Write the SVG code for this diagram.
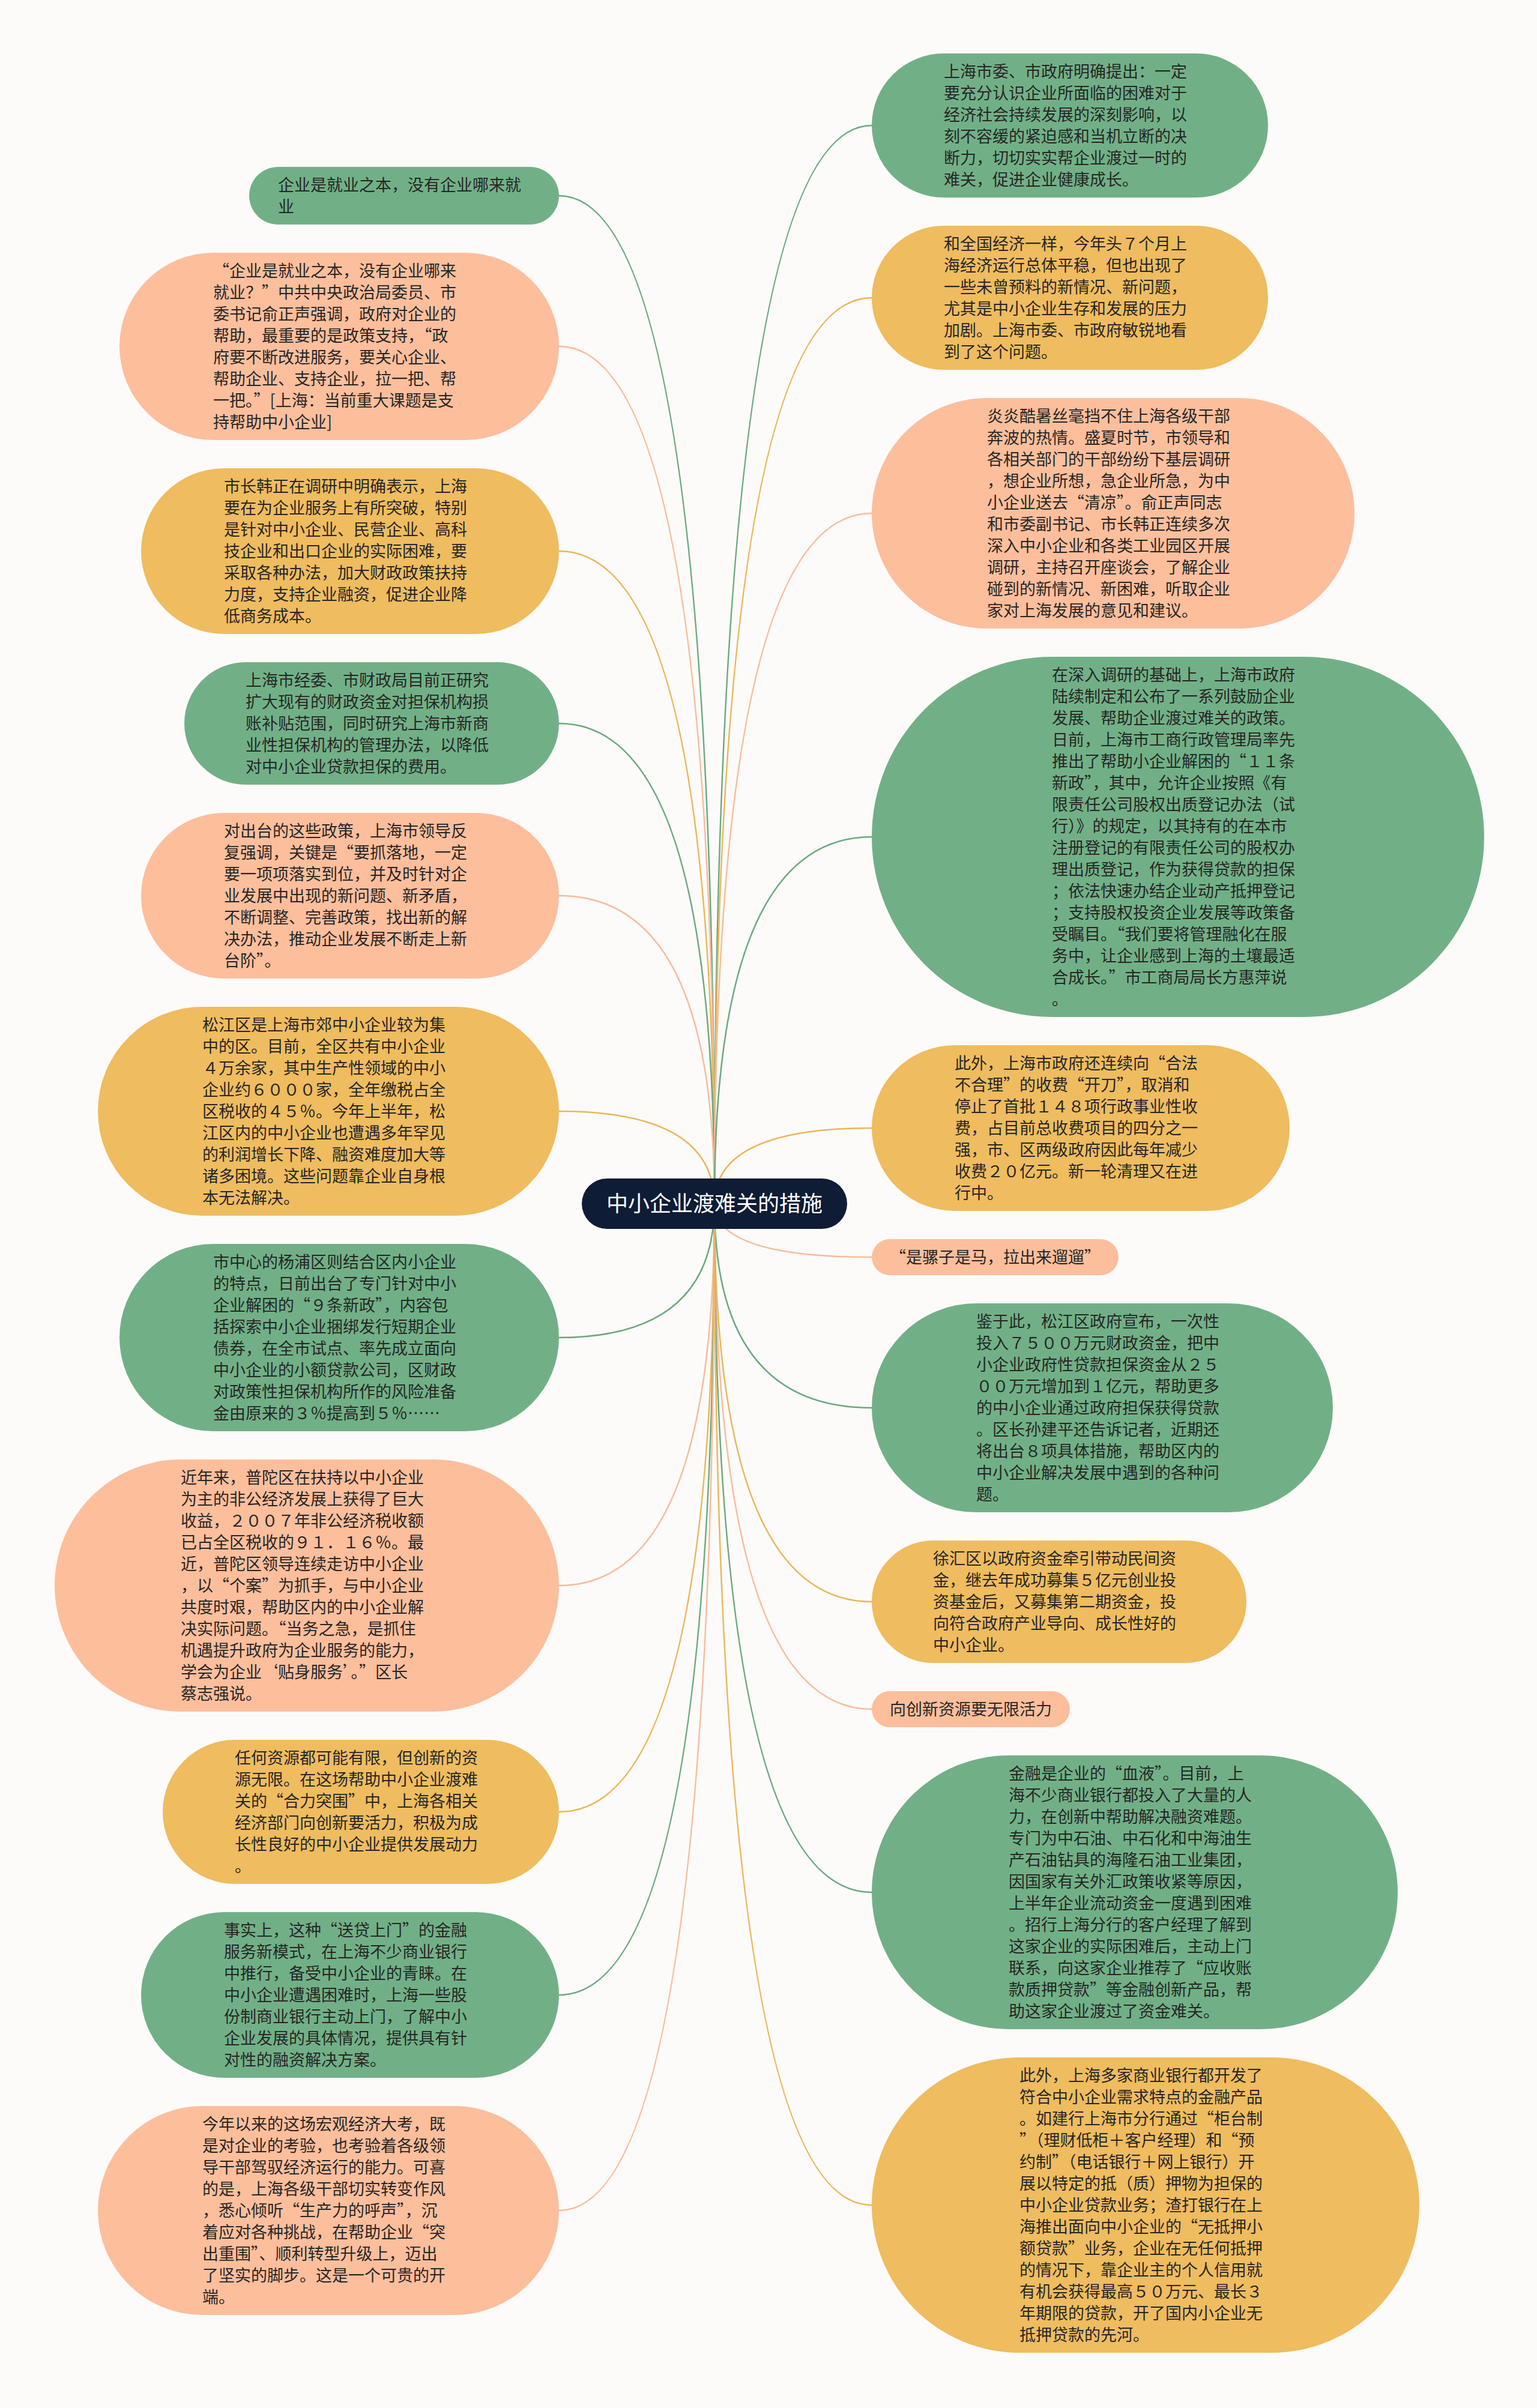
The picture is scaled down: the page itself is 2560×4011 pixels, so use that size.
<svg xmlns="http://www.w3.org/2000/svg" width="2560" height="4011" viewBox="0 0 2560 4011">
<style>
.bg{fill:#fdfbf9}
.g{fill:#71b086}.y{fill:#efbc5f}.s{fill:#fdbe9c}
.t{font-family:"Noto Sans CJK SC","Noto Sans",sans-serif;font-size:27px;fill:#262626}
.ct{font-family:"Noto Sans CJK SC","Noto Sans",sans-serif;font-size:36px;fill:#ffffff}
#connectors path{fill:none;stroke-width:2.5}
.lg{stroke:#6aa97f}.ly{stroke:#eab65a}.ls{stroke:#f8bb9b}
</style>
<rect class="bg" x="0" y="0" width="2560" height="4011"/>
<g id="connectors">
<path class="lg" d="M1190 2005 Q1190 326 931 326"/>
<path class="ls" d="M1190 2005 Q1190 577 931 577"/>
<path class="ly" d="M1190 2005 Q1190 918 931 918"/>
<path class="lg" d="M1190 2005 Q1190 1205 931 1205"/>
<path class="ls" d="M1190 2005 Q1190 1492 931 1492"/>
<path class="ly" d="M1190 2005 Q1190 1851 931 1851"/>
<path class="lg" d="M1190 2005 Q1190 2228 931 2228"/>
<path class="ls" d="M1190 2005 Q1190 2641 931 2641"/>
<path class="ly" d="M1190 2005 Q1190 3018 931 3018"/>
<path class="lg" d="M1190 2005 Q1190 3323 931 3323"/>
<path class="ls" d="M1190 2005 Q1190 3682 931 3682"/>
<path class="lg" d="M1190 2005 Q1190 209 1452 209"/>
<path class="ly" d="M1190 2005 Q1190 496 1452 496"/>
<path class="ls" d="M1190 2005 Q1190 855 1452 855"/>
<path class="lg" d="M1190 2005 Q1190 1394 1452 1394"/>
<path class="ly" d="M1190 2005 Q1190 1879 1452 1879"/>
<path class="ls" d="M1190 2005 Q1190 2094 1452 2094"/>
<path class="lg" d="M1190 2005 Q1190 2345 1452 2345"/>
<path class="ly" d="M1190 2005 Q1190 2668 1452 2668"/>
<path class="ls" d="M1190 2005 Q1190 2847 1452 2847"/>
<path class="lg" d="M1190 2005 Q1190 3152 1452 3152"/>
<path class="ly" d="M1190 2005 Q1190 3673 1452 3673"/>
</g>
<g id="center">
<rect x="969" y="1963" width="442" height="84" rx="42" fill="#0e1c36"/>
<text class="ct" x="1190" y="2018" text-anchor="middle">中小企业渡难关的措施</text>
</g>
<g id="L1">
<rect class="g" x="415" y="278" width="516" height="96" rx="48"/>
<text class="t" y="318"><tspan x="463">企业是就业之本，没有企业哪来就</tspan><tspan x="463" dy="36">业</tspan></text>
</g>
<g id="L2">
<rect class="s" x="199" y="421" width="732" height="312" rx="156"/>
<text class="t" y="461"><tspan x="355">“企业是就业之本，没有企业哪来</tspan><tspan x="355" dy="36">就业？”中共中央政治局委员、市</tspan><tspan x="355" dy="36">委书记俞正声强调，政府对企业的</tspan><tspan x="355" dy="36">帮助，最重要的是政策支持，“政</tspan><tspan x="355" dy="36">府要不断改进服务，要关心企业、</tspan><tspan x="355" dy="36">帮助企业、支持企业，拉一把、帮</tspan><tspan x="355" dy="36">一把。”[上海：当前重大课题是支</tspan><tspan x="355" dy="36">持帮助中小企业]</tspan></text>
</g>
<g id="L3">
<rect class="y" x="235" y="780" width="696" height="276" rx="138"/>
<text class="t" y="820"><tspan x="373">市长韩正在调研中明确表示，上海</tspan><tspan x="373" dy="36">要在为企业服务上有所突破，特别</tspan><tspan x="373" dy="36">是针对中小企业、民营企业、高科</tspan><tspan x="373" dy="36">技企业和出口企业的实际困难，要</tspan><tspan x="373" dy="36">采取各种办法，加大财政政策扶持</tspan><tspan x="373" dy="36">力度，支持企业融资，促进企业降</tspan><tspan x="373" dy="36">低商务成本。</tspan></text>
</g>
<g id="L4">
<rect class="g" x="307" y="1103" width="624" height="204" rx="102"/>
<text class="t" y="1143"><tspan x="409">上海市经委、市财政局目前正研究</tspan><tspan x="409" dy="36">扩大现有的财政资金对担保机构损</tspan><tspan x="409" dy="36">账补贴范围，同时研究上海市新商</tspan><tspan x="409" dy="36">业性担保机构的管理办法，以降低</tspan><tspan x="409" dy="36">对中小企业贷款担保的费用。</tspan></text>
</g>
<g id="L5">
<rect class="s" x="235" y="1354" width="696" height="276" rx="138"/>
<text class="t" y="1394"><tspan x="373">对出台的这些政策，上海市领导反</tspan><tspan x="373" dy="36">复强调，关键是“要抓落地，一定</tspan><tspan x="373" dy="36">要一项项落实到位，并及时针对企</tspan><tspan x="373" dy="36">业发展中出现的新问题、新矛盾，</tspan><tspan x="373" dy="36">不断调整、完善政策，找出新的解</tspan><tspan x="373" dy="36">决办法，推动企业发展不断走上新</tspan><tspan x="373" dy="36">台阶”。</tspan></text>
</g>
<g id="L6">
<rect class="y" x="163" y="1677" width="768" height="348" rx="174"/>
<text class="t" y="1717"><tspan x="337">松江区是上海市郊中小企业较为集</tspan><tspan x="337" dy="36">中的区。目前，全区共有中小企业</tspan><tspan x="337" dy="36">４万余家，其中生产性领域的中小</tspan><tspan x="337" dy="36">企业约６０００家，全年缴税占全</tspan><tspan x="337" dy="36">区税收的４５％。今年上半年，松</tspan><tspan x="337" dy="36">江区内的中小企业也遭遇多年罕见</tspan><tspan x="337" dy="36">的利润增长下降、融资难度加大等</tspan><tspan x="337" dy="36">诸多困境。这些问题靠企业自身根</tspan><tspan x="337" dy="36">本无法解决。</tspan></text>
</g>
<g id="L7">
<rect class="g" x="199" y="2072" width="732" height="312" rx="156"/>
<text class="t" y="2112"><tspan x="355">市中心的杨浦区则结合区内小企业</tspan><tspan x="355" dy="36">的特点，日前出台了专门针对中小</tspan><tspan x="355" dy="36">企业解困的“９条新政”，内容包</tspan><tspan x="355" dy="36">括探索中小企业捆绑发行短期企业</tspan><tspan x="355" dy="36">债券，在全市试点、率先成立面向</tspan><tspan x="355" dy="36">中小企业的小额贷款公司，区财政</tspan><tspan x="355" dy="36">对政策性担保机构所作的风险准备</tspan><tspan x="355" dy="36">金由原来的３％提高到５％……</tspan></text>
</g>
<g id="L8">
<rect class="s" x="91" y="2431" width="840" height="420" rx="210"/>
<text class="t" y="2471"><tspan x="301">近年来，普陀区在扶持以中小企业</tspan><tspan x="301" dy="36">为主的非公经济发展上获得了巨大</tspan><tspan x="301" dy="36">收益，２００７年非公经济税收额</tspan><tspan x="301" dy="36">已占全区税收的９１．１６％。最</tspan><tspan x="301" dy="36">近，普陀区领导连续走访中小企业</tspan><tspan x="301" dy="36">，以“个案”为抓手，与中小企业</tspan><tspan x="301" dy="36">共度时艰，帮助区内的中小企业解</tspan><tspan x="301" dy="36">决实际问题。“当务之急，是抓住</tspan><tspan x="301" dy="36">机遇提升政府为企业服务的能力，</tspan><tspan x="301" dy="36">学会为企业‘贴身服务’。”区长</tspan><tspan x="301" dy="36">蔡志强说。</tspan></text>
</g>
<g id="L9">
<rect class="y" x="271" y="2898" width="660" height="240" rx="120"/>
<text class="t" y="2938"><tspan x="391">任何资源都可能有限，但创新的资</tspan><tspan x="391" dy="36">源无限。在这场帮助中小企业渡难</tspan><tspan x="391" dy="36">关的“合力突围”中，上海各相关</tspan><tspan x="391" dy="36">经济部门向创新要活力，积极为成</tspan><tspan x="391" dy="36">长性良好的中小企业提供发展动力</tspan><tspan x="391" dy="36">。</tspan></text>
</g>
<g id="L10">
<rect class="g" x="235" y="3185" width="696" height="276" rx="138"/>
<text class="t" y="3225"><tspan x="373">事实上，这种“送贷上门”的金融</tspan><tspan x="373" dy="36">服务新模式，在上海不少商业银行</tspan><tspan x="373" dy="36">中推行，备受中小企业的青睐。在</tspan><tspan x="373" dy="36">中小企业遭遇困难时，上海一些股</tspan><tspan x="373" dy="36">份制商业银行主动上门，了解中小</tspan><tspan x="373" dy="36">企业发展的具体情况，提供具有针</tspan><tspan x="373" dy="36">对性的融资解决方案。</tspan></text>
</g>
<g id="L11">
<rect class="s" x="163" y="3508" width="768" height="348" rx="174"/>
<text class="t" y="3548"><tspan x="337">今年以来的这场宏观经济大考，既</tspan><tspan x="337" dy="36">是对企业的考验，也考验着各级领</tspan><tspan x="337" dy="36">导干部驾驭经济运行的能力。可喜</tspan><tspan x="337" dy="36">的是，上海各级干部切实转变作风</tspan><tspan x="337" dy="36">，悉心倾听“生产力的呼声”，沉</tspan><tspan x="337" dy="36">着应对各种挑战，在帮助企业“突</tspan><tspan x="337" dy="36">出重围”、顺利转型升级上，迈出</tspan><tspan x="337" dy="36">了坚实的脚步。这是一个可贵的开</tspan><tspan x="337" dy="36">端。</tspan></text>
</g>
<g id="R1">
<rect class="g" x="1452" y="89" width="660" height="240" rx="120"/>
<text class="t" y="129"><tspan x="1572">上海市委、市政府明确提出：一定</tspan><tspan x="1572" dy="36">要充分认识企业所面临的困难对于</tspan><tspan x="1572" dy="36">经济社会持续发展的深刻影响，以</tspan><tspan x="1572" dy="36">刻不容缓的紧迫感和当机立断的决</tspan><tspan x="1572" dy="36">断力，切切实实帮企业渡过一时的</tspan><tspan x="1572" dy="36">难关，促进企业健康成长。</tspan></text>
</g>
<g id="R2">
<rect class="y" x="1452" y="376" width="660" height="240" rx="120"/>
<text class="t" y="416"><tspan x="1572">和全国经济一样，今年头７个月上</tspan><tspan x="1572" dy="36">海经济运行总体平稳，但也出现了</tspan><tspan x="1572" dy="36">一些未曾预料的新情况、新问题，</tspan><tspan x="1572" dy="36">尤其是中小企业生存和发展的压力</tspan><tspan x="1572" dy="36">加剧。上海市委、市政府敏锐地看</tspan><tspan x="1572" dy="36">到了这个问题。</tspan></text>
</g>
<g id="R3">
<rect class="s" x="1452" y="663" width="804" height="384" rx="192"/>
<text class="t" y="703"><tspan x="1644">炎炎酷暑丝毫挡不住上海各级干部</tspan><tspan x="1644" dy="36">奔波的热情。盛夏时节，市领导和</tspan><tspan x="1644" dy="36">各相关部门的干部纷纷下基层调研</tspan><tspan x="1644" dy="36">，想企业所想，急企业所急，为中</tspan><tspan x="1644" dy="36">小企业送去“清凉”。俞正声同志</tspan><tspan x="1644" dy="36">和市委副书记、市长韩正连续多次</tspan><tspan x="1644" dy="36">深入中小企业和各类工业园区开展</tspan><tspan x="1644" dy="36">调研，主持召开座谈会，了解企业</tspan><tspan x="1644" dy="36">碰到的新情况、新困难，听取企业</tspan><tspan x="1644" dy="36">家对上海发展的意见和建议。</tspan></text>
</g>
<g id="R4">
<rect class="g" x="1452" y="1094" width="1020" height="600" rx="300"/>
<text class="t" y="1134"><tspan x="1752">在深入调研的基础上，上海市政府</tspan><tspan x="1752" dy="36">陆续制定和公布了一系列鼓励企业</tspan><tspan x="1752" dy="36">发展、帮助企业渡过难关的政策。</tspan><tspan x="1752" dy="36">日前，上海市工商行政管理局率先</tspan><tspan x="1752" dy="36">推出了帮助小企业解困的“１１条</tspan><tspan x="1752" dy="36">新政”，其中，允许企业按照《有</tspan><tspan x="1752" dy="36">限责任公司股权出质登记办法（试</tspan><tspan x="1752" dy="36">行）》的规定，以其持有的在本市</tspan><tspan x="1752" dy="36">注册登记的有限责任公司的股权办</tspan><tspan x="1752" dy="36">理出质登记，作为获得贷款的担保</tspan><tspan x="1752" dy="36">；依法快速办结企业动产抵押登记</tspan><tspan x="1752" dy="36">；支持股权投资企业发展等政策备</tspan><tspan x="1752" dy="36">受瞩目。“我们要将管理融化在服</tspan><tspan x="1752" dy="36">务中，让企业感到上海的土壤最适</tspan><tspan x="1752" dy="36">合成长。”市工商局局长方惠萍说</tspan><tspan x="1752" dy="36">。</tspan></text>
</g>
<g id="R5">
<rect class="y" x="1452" y="1741" width="696" height="276" rx="138"/>
<text class="t" y="1781"><tspan x="1590">此外，上海市政府还连续向“合法</tspan><tspan x="1590" dy="36">不合理”的收费“开刀”，取消和</tspan><tspan x="1590" dy="36">停止了首批１４８项行政事业性收</tspan><tspan x="1590" dy="36">费，占目前总收费项目的四分之一</tspan><tspan x="1590" dy="36">强，市、区两级政府因此每年减少</tspan><tspan x="1590" dy="36">收费２０亿元。新一轮清理又在进</tspan><tspan x="1590" dy="36">行中。</tspan></text>
</g>
<g id="R6">
<rect class="s" x="1452" y="2064" width="411" height="60" rx="30"/>
<text class="t" x="1482" y="2104">“是骡子是马，拉出来遛遛”</text>
</g>
<g id="R7">
<rect class="g" x="1452" y="2171" width="768" height="348" rx="174"/>
<text class="t" y="2211"><tspan x="1626">鉴于此，松江区政府宣布，一次性</tspan><tspan x="1626" dy="36">投入７５００万元财政资金，把中</tspan><tspan x="1626" dy="36">小企业政府性贷款担保资金从２５</tspan><tspan x="1626" dy="36">００万元增加到１亿元，帮助更多</tspan><tspan x="1626" dy="36">的中小企业通过政府担保获得贷款</tspan><tspan x="1626" dy="36">。区长孙建平还告诉记者，近期还</tspan><tspan x="1626" dy="36">将出台８项具体措施，帮助区内的</tspan><tspan x="1626" dy="36">中小企业解决发展中遇到的各种问</tspan><tspan x="1626" dy="36">题。</tspan></text>
</g>
<g id="R8">
<rect class="y" x="1452" y="2566" width="624" height="204" rx="102"/>
<text class="t" y="2606"><tspan x="1554">徐汇区以政府资金牵引带动民间资</tspan><tspan x="1554" dy="36">金，继去年成功募集５亿元创业投</tspan><tspan x="1554" dy="36">资基金后，又募集第二期资金，投</tspan><tspan x="1554" dy="36">向符合政府产业导向、成长性好的</tspan><tspan x="1554" dy="36">中小企业。</tspan></text>
</g>
<g id="R9">
<rect class="s" x="1452" y="2817" width="330" height="60" rx="30"/>
<text class="t" x="1482" y="2857">向创新资源要无限活力</text>
</g>
<g id="R10">
<rect class="g" x="1452" y="2924" width="876" height="456" rx="228"/>
<text class="t" y="2964"><tspan x="1680">金融是企业的“血液”。目前，上</tspan><tspan x="1680" dy="36">海不少商业银行都投入了大量的人</tspan><tspan x="1680" dy="36">力，在创新中帮助解决融资难题。</tspan><tspan x="1680" dy="36">专门为中石油、中石化和中海油生</tspan><tspan x="1680" dy="36">产石油钻具的海隆石油工业集团，</tspan><tspan x="1680" dy="36">因国家有关外汇政策收紧等原因，</tspan><tspan x="1680" dy="36">上半年企业流动资金一度遇到困难</tspan><tspan x="1680" dy="36">。招行上海分行的客户经理了解到</tspan><tspan x="1680" dy="36">这家企业的实际困难后，主动上门</tspan><tspan x="1680" dy="36">联系，向这家企业推荐了“应收账</tspan><tspan x="1680" dy="36">款质押贷款”等金融创新产品，帮</tspan><tspan x="1680" dy="36">助这家企业渡过了资金难关。</tspan></text>
</g>
<g id="R11">
<rect class="y" x="1452" y="3427" width="912" height="492" rx="246"/>
<text class="t" y="3467"><tspan x="1698">此外，上海多家商业银行都开发了</tspan><tspan x="1698" dy="36">符合中小企业需求特点的金融产品</tspan><tspan x="1698" dy="36">。如建行上海市分行通过“柜台制</tspan><tspan x="1698" dy="36">”（理财低柜＋客户经理）和“预</tspan><tspan x="1698" dy="36">约制”（电话银行＋网上银行）开</tspan><tspan x="1698" dy="36">展以特定的抵（质）押物为担保的</tspan><tspan x="1698" dy="36">中小企业贷款业务；渣打银行在上</tspan><tspan x="1698" dy="36">海推出面向中小企业的“无抵押小</tspan><tspan x="1698" dy="36">额贷款”业务，企业在无任何抵押</tspan><tspan x="1698" dy="36">的情况下，靠企业主的个人信用就</tspan><tspan x="1698" dy="36">有机会获得最高５０万元、最长３</tspan><tspan x="1698" dy="36">年期限的贷款，开了国内小企业无</tspan><tspan x="1698" dy="36">抵押贷款的先河。</tspan></text>
</g>
</svg>
